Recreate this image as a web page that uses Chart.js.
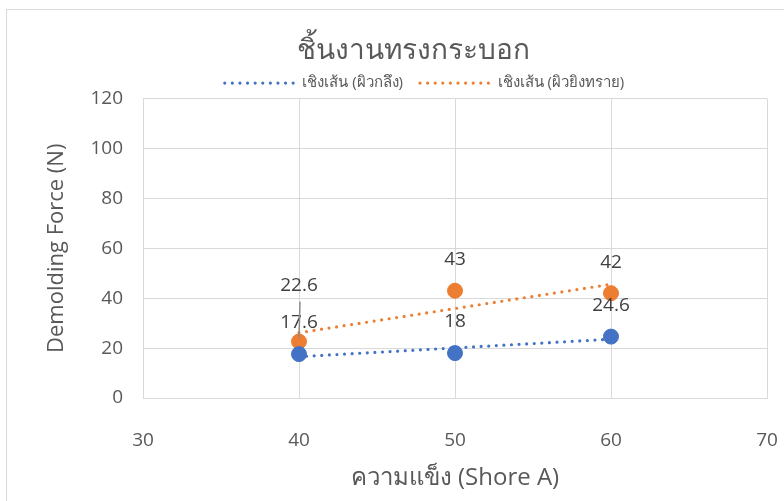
<!DOCTYPE html>
<html>
<head>
<meta charset="utf-8">
<script src="https://cdn.jsdelivr.net/npm/chart.js@4.4.1/dist/chart.umd.min.js"></script>
<style>
  html, body { margin: 0; background: #fff; }
  #wrap { position: relative; width: 784px; height: 501px; }
</style>
</head>
<body>
<div id="wrap"><canvas id="chart"></canvas></div>
<script>
// hardness (Shore A) vs demolding force, two surface finishes
const hardness = [40, 50, 60];
const forceTurned = [17.6, 18, 24.6];
const forceBlasted = [22.6, 43, 42];
const seriesNames = ['เชิงเส้น (ผิวกลึง)', 'เชิงเส้น (ผิวยิงทราย)'];
const xTicks = [30, 40, 50, 60, 70];
const yTicks = [0, 20, 40, 60, 80, 100, 120];

const BLUE = '#4472C4';
const ORANGE = '#ED7D31';
const GRID = '#d9d9d9';
const TEXT = '#595959';
const FONT = '"Open Sans", "Noto Sans", sans-serif';

function toPoints(xs, ys) {
  return xs.map((x, i) => ({ x: x, y: ys[i] }));
}

// least squares line across the x range of the data
function linearFit(xs, ys) {
  const n = xs.length;
  const mx = xs.reduce((a, b) => a + b, 0) / n;
  const my = ys.reduce((a, b) => a + b, 0) / n;
  let sxy = 0, sxx = 0;
  xs.forEach((x, i) => { sxy += (x - mx) * (ys[i] - my); sxx += (x - mx) * (x - mx); });
  const slope = sxy / sxx;
  const icpt = my - slope * mx;
  const x0 = Math.min(...xs), x1 = Math.max(...xs);
  return [{ x: x0, y: icpt + slope * x0 }, { x: x1, y: icpt + slope * x1 }];
}

// how far above each marker its value sits (px); 22.6 is pushed up with a leader
const labelLift = [[31, 31, 31], [56, 31, 31]];

const outerFrame = {
  id: 'outerFrame',
  beforeDraw(chart) {
    const ctx = chart.ctx;
    ctx.save();
    ctx.strokeStyle = '#d9d9d9';
    ctx.lineWidth = 1;
    ctx.strokeRect(6.5, 9.5, 900, 600);
    ctx.restore();
  }
};

// nudge title and legend a bit right of the plain centre and down
const headerShift = {
  id: 'headerShift',
  afterLayout(chart) {
    const t = chart.titleBlock, lg = chart.legend;
    if (t) { t.left += 8; t.right += 8; t.top += 11; t.bottom += 11; }
    if (lg) { lg.left += 19; lg.right += 19; lg.top += 2; lg.bottom += 2; }
  }
};

const pointLabels = {
  id: 'pointLabels',
  afterDatasetsDraw(chart) {
    const ctx = chart.ctx;
    ctx.save();
    ctx.font = '19px ' + FONT;
    ctx.textAlign = 'center';
    ctx.textBaseline = 'middle';
    [0, 1].forEach(di => {
      const meta = chart.getDatasetMeta(di);
      const vals = chart.data.datasets[di].data;
      meta.data.forEach((pt, i) => {
        const lift = labelLift[di][i];
        ctx.fillStyle = '#404040';
        ctx.fillText(String(vals[i].y), pt.x, pt.y - lift);
        if (lift > 40) {
          ctx.strokeStyle = '#8c8c8c';
          ctx.lineWidth = 1.5;
          ctx.beginPath();
          ctx.moveTo(pt.x + 1, pt.y - lift + 16);
          ctx.lineTo(pt.x, pt.y - 4);
          ctx.stroke();
        }
      });
    });
    ctx.restore();
  }
};

const trendDot = { borderDash: [0, 7.6], borderCapStyle: 'round', borderWidth: 3.2 };

new Chart(document.getElementById('chart'), {
  type: 'scatter',
  data: {
    datasets: [
      { label: 'ผิวกลึง', data: toPoints(hardness, forceTurned), backgroundColor: BLUE, borderColor: BLUE,
        pointRadius: 7.5, pointHoverRadius: 7.5, order: 1 },
      { label: 'ผิวยิงทราย', data: toPoints(hardness, forceBlasted), backgroundColor: ORANGE, borderColor: ORANGE,
        pointRadius: 7.5, pointHoverRadius: 7.5, order: 1 },
      Object.assign({ label: seriesNames[0], type: 'line', data: linearFit(hardness, forceTurned),
        borderColor: BLUE, pointRadius: 0, fill: false, order: 0 }, trendDot),
      Object.assign({ label: seriesNames[1], type: 'line', data: linearFit(hardness, forceBlasted),
        borderColor: ORANGE, pointRadius: 0, fill: false, order: 0 }, trendDot)
    ]
  },
  options: {
    responsive: true,
    maintainAspectRatio: false,
    animation: false,
    layout: { padding: { left: 44, right: 17, top: 1, bottom: 0 } },
    plugins: {
      tooltip: { enabled: false },
      title: {
        display: true,
        text: 'ชิ้นงานทรงกระบอก',
        color: TEXT,
        font: { family: FONT, size: 28, weight: 'normal' },
        padding: { top: 22, bottom: 0 }
      },
      legend: {
        display: true,
        labels: {
          color: TEXT,
          font: { family: FONT, size: 15 },
          usePointStyle: true,
          pointStyleWidth: 70,
          boxHeight: 14,
          padding: 17,
          filter: item => item.datasetIndex >= 2,
          generateLabels(chart) {
            return chart.data.datasets.map((ds, i) => ({
              text: ds.label,
              datasetIndex: i,
              pointStyle: 'line',
              strokeStyle: ds.borderColor,
              fillStyle: ds.borderColor,
              lineWidth: 3.2,
              lineDash: [0, 7.6],
              lineCap: 'round',
              fontColor: TEXT,
              hidden: false
            }));
          }
        }
      }
    },
    scales: {
      x: {
        type: 'linear',
        min: xTicks[0],
        max: xTicks[xTicks.length - 1],
        afterBuildTicks: s => { s.ticks = xTicks.map(v => ({ value: v })); },
        afterFit: s => { s.height = 103; s.paddingLeft = 0; s.paddingRight = 0; },
        grid: { color: GRID, lineWidth: 1, drawTicks: false },
        border: { color: GRID },
        ticks: { color: TEXT, font: { family: FONT, size: 19 }, padding: 31 },
        title: { display: true, text: 'ความแข็ง (Shore A)', color: TEXT,
                 font: { family: FONT, size: 24 }, padding: { top: 0, bottom: 8 } }
      },
      y: {
        min: yTicks[0],
        max: yTicks[yTicks.length - 1],
        afterBuildTicks: s => { s.ticks = yTicks.map(v => ({ value: v })); },
        afterFit: s => { s.width = 99; },
        grid: { color: GRID, lineWidth: 1, drawTicks: false },
        border: { color: GRID },
        ticks: { color: TEXT, font: { family: FONT, size: 19 }, padding: 20 },
        title: { display: true, text: 'Demolding Force (N)', color: TEXT,
                 font: { family: FONT, size: 22 }, padding: { top: 0, bottom: 0 } }
      }
    }
  },
  plugins: [outerFrame, headerShift, pointLabels]
});
</script>
</body>
</html>
